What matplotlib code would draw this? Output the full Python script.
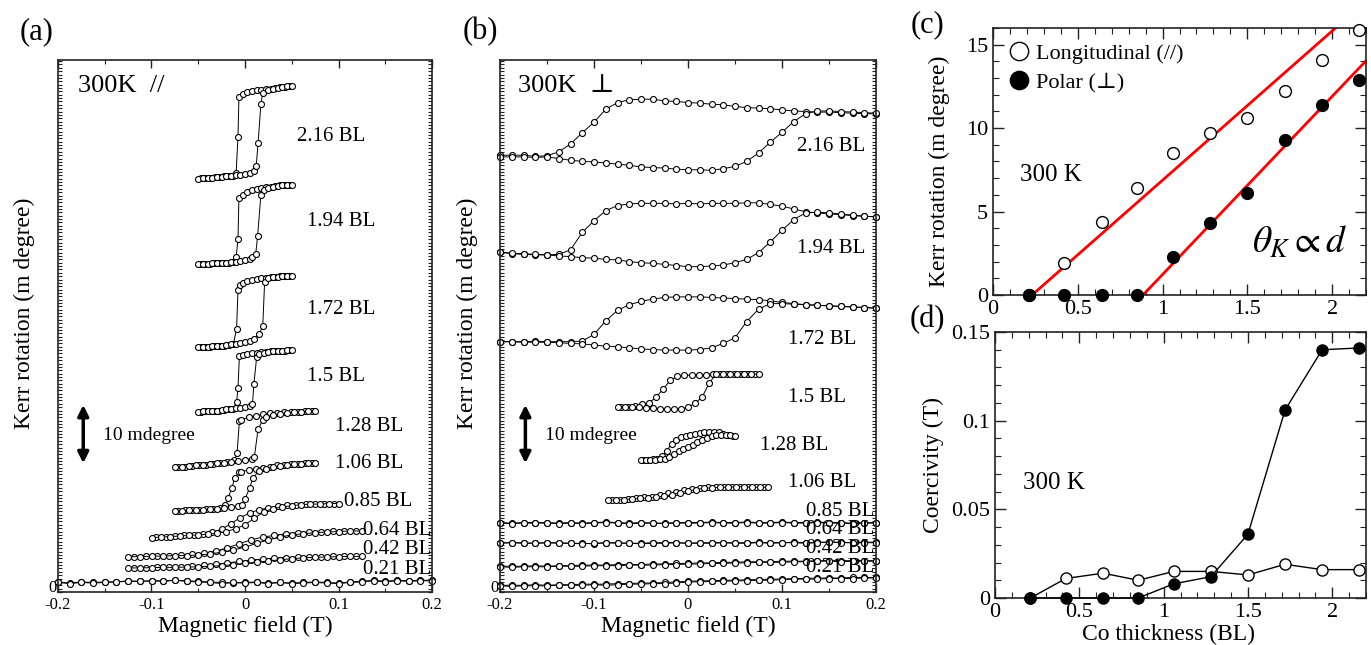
import numpy as np
import matplotlib
matplotlib.use('Agg')
import matplotlib.pyplot as plt
import matplotlib.transforms as mtransforms
from matplotlib.ticker import MultipleLocator, FixedLocator, FuncFormatter

plt.rcParams['font.family'] = ['Liberation Serif', 'DejaVu Serif', 'DejaVu Sans']
plt.rcParams['mathtext.fontset'] = 'stix'

# ---------------- data ----------------
# field sweeps in mT
H_full = [-200, -187.5, -175, -162.5, -150, -137.5, -125, -112.5, -100, -87.5, -75, -62.5, -50,
          -37.5, -25, -12.5, 0, 12.5, 25, 37.5, 50, 62.5, 75, 87.5, 100, 112.5, 125, 137.5, 150,
          162.5, 175, 187.5, 200]
H_100_up = [-100, -90, -80, -70, -60, -50, -40, -30, -20, -10, 0, 10, 20, 30, 40, 50, 60, 70, 80, 90, 100]
H_100_dn = [-95, -85, -75, -65, -55, -45, -35, -25, -15, -5, 5, 15, 25, 35, 45, 55, 65, 75, 85, 95]
H_125_up = [-125, -112.5, -100, -87.5, -75, -62.5, -50, -37.5, -25, -12.5, 0, 12.5, 25, 37.5, 50,
            62.5, 75, 87.5, 100, 112.5, 125]
H_125_dn = [-118.75, -106.25, -93.75, -81.25, -68.75, -56.25, -43.75, -31.25, -18.75, -6.25, 6.25,
            18.75, 31.25, 43.75, 56.25, 68.75, 81.25, 93.75, 106.25, 118.75]
H_75_up = [-75, -67.5, -60, -52.5, -45, -37.5, -30, -22.5, -15, -7.5, 0, 7.5, 15, 22.5, 30, 37.5,
           45, 52.5, 60, 67.5, 75]
H_75_dn = [-71.25, -63.75, -56.25, -48.75, -41.25, -33.75, -26.25, -18.75, -11.25, -3.75, 3.75,
           11.25, 18.75, 26.25, 33.75, 41.25, 48.75, 56.25, 63.75, 71.25]
H_50_up = [-50, -45, -40, -35, -30, -25, -20, -15, -10, -5, 0, 5, 10, 15, 20, 25, 30, 35, 40, 45, 50]
H_50_dn = [-47.5, -42.5, -37.5, -32.5, -27.5, -22.5, -17.5, -12.5, -7.5, -2.5, 2.5, 7.5, 12.5,
           17.5, 22.5, 27.5, 32.5, 37.5, 42.5, 47.5]
H_85_up = [-85, -76.5, -68, -59.5, -51, -42.5, -34, -25.5, -17, -8.5, 0, 8.5, 17, 25.5, 34, 42.5,
           51, 59.5, 68, 76.5, 85]
H_85_dn = [-80.75, -72.25, -63.75, -55.25, -46.75, -38.25, -29.75, -21.25, -12.75, -4.25, 4.25,
           12.75, 21.25, 29.75, 38.25, 46.75, 55.25, 63.75, 72.25, 80.75]

# (a) longitudinal loops, Kerr rotation in m degree (offset per thickness)
a216_dn_h = [-47.5, -42.5, -37.5, -32.5, -27.5, -22.5, -17.5, -12.5, -9.5, -7.5, -6.5, -2.5, 2.5,
             7.5, 12.5, 17.5, 22.5, 27.5, 32.5, 37.5, 42.5, 47.5]
a216_dn = [73.9, 74.0, 74.0, 74.1, 74.1, 74.2, 74.2, 74.3, 74.8, 81.3, 88.4, 88.9, 89.2, 89.4, 89.6,
           89.7, 89.8, 89.9, 90.0, 90.1, 90.2, 90.3]
a216_up_h = [-50, -45, -40, -35, -30, -25, -20, -15, -10, -5, 0, 5, 10, 12, 14, 17, 19, 25, 30, 35,
             40, 45, 50]
a216_up = [73.8, 73.9, 74.0, 74.0, 74.1, 74.1, 74.2, 74.3, 74.4, 74.5, 74.6, 74.8, 75.2, 76.1, 80.2,
           87.1, 89.1, 89.6, 89.9, 90.0, 90.2, 90.3, 90.4]

a194_dn_h = [-47.5, -42.5, -37.5, -32.5, -27.5, -22.5, -17.5, -12.5, -9.5, -7.5, -6.5, -2.5, 2.5,
             7.5, 12.5, 17.5, 22.5, 27.5, 32.5, 37.5, 42.5, 47.5]
a194_dn = [58.5, 58.6, 58.6, 58.7, 58.7, 58.8, 58.8, 58.9, 59.8, 63.0, 70.4, 70.9, 71.4, 71.8, 72.0,
           72.2, 72.3, 72.4, 72.5, 72.6, 72.6, 72.7]
a194_up_h = [-50, -45, -40, -35, -30, -25, -20, -15, -10, -5, 0, 5, 8, 11.5, 13.5, 17, 20, 25, 30,
             35, 40, 45, 50]
a194_up = [58.5, 58.6, 58.6, 58.7, 58.7, 58.8, 58.8, 58.9, 59.0, 59.1, 59.2, 59.4, 59.8, 60.4, 63.6,
           70.9, 71.8, 72.2, 72.3, 72.5, 72.6, 72.7, 72.7]

a172_dn_h = [-47.5, -42.5, -37.5, -32.5, -27.5, -22.5, -17.5, -12.5, -9, -7.5, -5, -2.5, 2.5, 7.5,
             12.5, 17.5, 22.5, 27.5, 32.5, 37.5, 42.5, 47.5]
a172_dn = [43.7, 43.8, 43.8, 43.9, 43.9, 44.0, 44.1, 44.2, 47.0, 53.9, 54.8, 55.2, 55.5, 55.7, 55.9,
           56.0, 56.1, 56.2, 56.3, 56.4, 56.4, 56.5]
a172_up_h = [-50, -45, -40, -35, -30, -25, -20, -15, -10, -5, 0, 5, 10, 15, 19, 21, 25, 30, 35, 40,
             45, 50]
a172_up = [43.7, 43.8, 43.8, 43.9, 43.9, 44.0, 44.1, 44.2, 44.3, 44.4, 44.6, 44.8, 45.2, 46.0, 47.5,
           55.4, 56.0, 56.2, 56.3, 56.4, 56.5, 56.5]

a150_dn_h = [-47.5, -42.5, -37.5, -32.5, -27.5, -22.5, -17.5, -12.5, -9, -7.5, -6, -2.5, 2.5, 7.5,
             12.5, 17.5, 22.5, 27.5, 32.5, 37.5, 42.5, 47.5]
a150_dn = [32.2, 32.3, 32.3, 32.4, 32.4, 32.5, 32.6, 32.7, 33.9, 36.4, 42.1, 42.3, 42.5, 42.6, 42.7,
           42.8, 42.9, 43.0, 43.0, 43.1, 43.1, 43.2]
a150_up_h = [-50, -45, -40, -35, -30, -25, -20, -15, -10, -5, 0, 5, 8, 9.5, 12.5, 15, 20, 25, 30,
             35, 40, 45, 50]
a150_up = [32.2, 32.3, 32.3, 32.4, 32.4, 32.5, 32.6, 32.7, 32.8, 32.9, 33.0, 33.2, 33.6, 37.1, 42.0,
           42.5, 42.7, 42.9, 43.0, 43.1, 43.1, 43.2, 43.2]

a128_dn_h = [-71.25, -63.75, -56.25, -48.75, -41.25, -33.75, -26.25, -18.75, -11.25, -8.5, -6,
             -3.75, 3.75, 11.25, 18.75, 26.25, 33.75, 41.25, 48.75, 56.25, 63.75, 71.25]
a128_dn = [22.3, 22.4, 22.5, 22.6, 22.7, 22.8, 23.0, 23.2, 23.5, 24.8, 30.5, 30.8, 31.2, 31.5, 31.7,
           31.9, 32.0, 32.1, 32.2, 32.2, 32.3, 32.3]
a128_up_h = [-75, -67.5, -60, -52.5, -45, -37.5, -30, -22.5, -15, -7.5, 0, 7.5, 10, 14, 19, 22.5,
             30, 37.5, 45, 52.5, 60, 67.5, 75]
a128_up = [22.3, 22.4, 22.5, 22.6, 22.7, 22.8, 23.0, 23.1, 23.3, 23.4, 23.6, 23.8, 24.1, 29.1, 30.7,
           31.2, 31.6, 31.8, 32.0, 32.1, 32.2, 32.3, 32.3]

a106_dn_h = [-71.25, -63.75, -56.25, -48.75, -41.25, -33.75, -26.25, -21, -18, -14, -11, -6, -3.75,
             3.75, 11.25, 18.75, 26.25, 33.75, 41.25, 48.75, 56.25, 63.75, 71.25]
a106_dn = [14.5, 14.6, 14.6, 14.7, 14.8, 14.9, 15.0, 15.5, 16.8, 18.6, 20.4, 21.4, 21.5, 21.8, 22.0,
           22.2, 22.4, 22.6, 22.7, 22.8, 22.9, 23.0, 23.0]
a106_up_h = [-75, -67.5, -60, -52.5, -45, -37.5, -30, -22.5, -15, -7.5, -3, 0, 5, 8.5, 15, 22.5,
             30, 37.5, 45, 52.5, 60, 67.5, 75]
a106_up = [14.5, 14.5, 14.6, 14.6, 14.7, 14.8, 14.9, 15.0, 15.1, 15.3, 15.6, 16.6, 18.6, 20.4, 21.6,
           22.0, 22.3, 22.5, 22.6, 22.8, 22.9, 23.0, 23.0]

a085_dn = [9.8, 9.9, 10.0, 10.1, 10.2, 10.4, 10.7, 11.2, 12.2, 13.3, 14.1, 14.7, 15.0, 15.3, 15.5,
           15.6, 15.7, 15.8, 15.8, 15.8]
a085_up = [9.7, 9.8, 9.9, 10.0, 10.1, 10.2, 10.3, 10.5, 10.8, 11.3, 12.0, 13.2, 14.3, 14.9, 15.2,
           15.4, 15.6, 15.7, 15.7, 15.8, 15.8]

a064_dn = [6.3, 6.4, 6.4, 6.5, 6.6, 6.7, 6.9, 7.3, 7.9, 8.6, 9.3, 9.8, 10.1, 10.4, 10.6, 10.7, 10.8,
           10.9, 10.9, 10.9]
a064_up = [6.3, 6.3, 6.4, 6.4, 6.5, 6.5, 6.6, 6.8, 7.1, 7.5, 8.0, 8.7, 9.3, 9.8, 10.2, 10.4, 10.6,
           10.7, 10.8, 10.9, 10.9]

a042_dn = [4.3, 4.35, 4.4, 4.45, 4.5, 4.6, 4.75, 4.95, 5.2, 5.45, 5.7, 5.9, 6.05, 6.15, 6.25, 6.3,
           6.3, 6.35, 6.35, 6.4]
a042_up = [4.3, 4.3, 4.35, 4.4, 4.4, 4.45, 4.5, 4.6, 4.7, 4.9, 5.1, 5.3, 5.55, 5.75, 5.95, 6.1, 6.2,
           6.25, 6.3, 6.35, 6.35]

a021_dn = [1.8, 1.6, 1.8, 1.7, 1.8, 1.8, 2.0, 1.9, 2.0, 2.0, 2.1, 2.0, 1.9, 1.8, 1.7, 1.6, 1.7, 1.8,
           1.6, 1.7, 1.6, 1.7, 1.8, 1.7, 1.6, 1.8, 1.9, 2.1, 1.9, 2.1, 2.0, 2.1, 2.1]
a021_up = [1.7, 1.5, 1.7, 1.6, 1.7, 1.8, 1.9, 1.9, 2.0, 1.9, 2.1, 1.9, 1.8, 1.7, 1.5, 1.7, 1.6, 1.7,
           1.5, 1.7, 1.5, 1.6, 1.7, 1.6, 1.5, 1.7, 1.8, 2.0, 1.8, 2.0, 1.9, 2.0, 2.0]

a_labels = ['2.16 BL', '1.94 BL', '1.72 BL', '1.5 BL', '1.28 BL', '1.06 BL', '0.85 BL', '0.64 BL',
            '0.42 BL', '0.21 BL']

# (b) polar loops
b216_dn = [78.0, 78.0, 78.0, 77.8, 77.9, 78.6, 80.0, 82.0, 83.9, 86.2, 87.4, 87.9, 88.0, 88.0, 87.7,
           87.6, 87.4, 87.3, 87.1, 87.0, 86.7, 86.5, 86.4, 86.3, 86.1, 85.9, 85.8, 85.7, 85.7, 85.6,
           85.5, 85.4, 85.4]
b216_up = [77.7, 77.7, 77.7, 77.6, 77.7, 77.4, 77.1, 76.9, 76.8, 76.6, 76.4, 76.2, 75.9, 75.8, 75.7,
           75.5, 75.4, 75.4, 75.3, 75.6, 76.0, 76.9, 78.4, 80.3, 82.1, 84.0, 85.4, 85.9, 85.9, 85.8,
           85.7, 85.6, 85.5]
b194_dn = [60.7, 60.4, 60.3, 60.2, 60.2, 60.3, 61.1, 64.2, 66.3, 68.1, 69.0, 69.3, 69.4, 69.4, 69.4,
           69.3, 69.4, 69.3, 69.4, 69.4, 69.4, 69.5, 69.5, 69.2, 68.9, 68.4, 67.9, 67.7, 67.5, 67.4,
           67.2, 67.1, 67.0]
b194_up = [60.7, 60.5, 60.4, 60.3, 60.2, 60.0, 59.9, 59.7, 59.6, 59.4, 59.3, 59.0, 58.8, 58.7, 58.5,
           58.3, 58.1, 58.1, 58.2, 58.4, 58.8, 59.4, 60.6, 62.5, 64.6, 66.5, 67.7, 67.8, 67.7, 67.5,
           67.3, 67.1, 67.0]
b172_dn = [44.7, 44.7, 44.7, 44.8, 44.7, 44.7, 44.7, 44.8, 46.0, 48.4, 50.3, 51.3, 51.9, 52.3, 52.6,
           52.7, 52.7, 52.7, 52.6, 52.5, 52.4, 52.3, 52.2, 52.0, 51.7, 51.5, 51.3, 51.2, 51.1, 51.0,
           50.9, 50.8, 50.7]
b172_up = [44.7, 44.7, 44.6, 44.6, 44.6, 44.5, 44.4, 44.3, 44.1, 43.9, 43.8, 43.6, 43.4, 43.3, 43.2,
           43.2, 43.2, 43.3, 43.6, 44.4, 45.4, 48.3, 50.5, 51.5, 51.5, 51.4, 51.3, 51.2, 51.1, 51.0,
           50.9, 50.8, 50.7]
b150_dn = [33.0, 33.1, 33.2, 33.5, 33.8, 34.8, 36.3, 37.8, 38.5, 38.7, 38.7, 38.8, 38.8, 38.9, 38.9,
           38.9, 38.9, 38.9, 38.9, 38.9]
b150_up = [33.0, 33.0, 33.0, 33.0, 32.9, 32.8, 32.7, 32.6, 32.6, 32.7, 33.0, 33.7, 34.8, 37.3, 38.9,
           38.9, 39.0, 39.0, 39.0, 38.9, 38.9]
b128_dn = [23.6, 23.6, 23.7, 23.8, 24.2, 25.2, 26.5, 27.2, 27.6, 27.9, 28.1, 28.3, 28.4, 28.5, 28.6,
           28.6, 28.5, 28.3, 28.1, 27.9]
b128_up = [23.6, 23.6, 23.6, 23.6, 23.7, 23.8, 24.1, 24.6, 25.2, 25.6, 25.9, 26.3, 26.7, 27.1, 27.5,
           27.8, 28.0, 28.1, 28.1, 28.0, 27.9]
b106_dn = [16.4, 16.5, 16.6, 16.7, 16.9, 17.0, 17.3, 17.6, 17.9, 18.2, 18.4, 18.6, 18.7, 18.7, 18.8,
           18.8, 18.8, 18.7, 18.7, 18.7]
b106_up = [16.4, 16.4, 16.5, 16.6, 16.7, 16.8, 16.9, 17.1, 17.4, 17.7, 18.0, 18.3, 18.5, 18.6, 18.7,
           18.7, 18.8, 18.8, 18.7, 18.7, 18.7]
b085_dn = [12.4, 12.3, 12.4, 12.4, 12.4, 12.3, 12.4, 12.3, 12.4, 12.5, 12.4, 12.3, 12.4, 12.3, 12.3,
           12.4, 12.4, 12.4, 12.5, 12.4, 12.4, 12.5, 12.4, 12.4, 12.5, 12.4, 12.4, 12.5, 12.4, 12.4,
           12.3, 12.4, 12.4]
b085_up = [12.3, 12.2, 12.3, 12.3, 12.3, 12.2, 12.3, 12.2, 12.3, 12.4, 12.3, 12.2, 12.3, 12.3, 12.2,
           12.3, 12.3, 12.3, 12.4, 12.3, 12.3, 12.4, 12.3, 12.3, 12.4, 12.3, 12.3, 12.4, 12.3, 12.3,
           12.2, 12.3, 12.3]
b064_dn = [8.8, 8.8, 8.8, 8.7, 8.8, 8.8, 8.7, 8.7, 8.6, 8.8, 8.8, 8.7, 8.7, 8.8, 8.8, 8.8, 8.7, 8.8,
           8.8, 8.8, 8.8, 8.8, 8.9, 8.8, 8.8, 8.9, 8.8, 8.9, 8.9, 8.9, 8.8, 8.9, 8.9]
b064_up = [8.7, 8.8, 8.7, 8.7, 8.8, 8.7, 8.7, 8.6, 8.7, 8.8, 8.7, 8.7, 8.6, 8.7, 8.7, 8.8, 8.7, 8.7,
           8.7, 8.8, 8.7, 8.7, 8.8, 8.7, 8.8, 8.8, 8.7, 8.8, 8.9, 8.8, 8.8, 8.8, 8.8]
b042_dn = [4.6, 4.6, 4.6, 4.7, 4.6, 4.7, 4.7, 4.8, 4.8, 4.8, 4.9, 4.9, 4.9, 5.0, 5.0, 5.1, 5.1, 5.2,
           5.2, 5.3, 5.3, 5.4, 5.4, 5.4, 5.5, 5.5, 5.5, 5.6, 5.6, 5.6, 5.6, 5.6, 5.6]
b042_up = [4.5, 4.4, 4.5, 4.5, 4.5, 4.6, 4.6, 4.6, 4.7, 4.7, 4.7, 4.8, 4.8, 4.8, 4.9, 4.9, 5.0, 5.0,
           5.1, 5.1, 5.2, 5.2, 5.3, 5.3, 5.3, 5.4, 5.4, 5.5, 5.5, 5.4, 5.5, 5.5, 5.5]
b021_dn = [1.2, 1.2, 1.2, 1.3, 1.2, 1.3, 1.3, 1.4, 1.4, 1.4, 1.5, 1.5, 1.6, 1.6, 1.7, 1.8, 1.9, 2.0,
           2.0, 2.1, 2.1, 2.2, 2.2, 2.3, 2.3, 2.4, 2.4, 2.5, 2.5, 2.5, 2.6, 2.6, 2.6]
b021_up = [1.1, 1.0, 1.1, 1.1, 1.1, 1.2, 1.2, 1.2, 1.3, 1.2, 1.3, 1.4, 1.4, 1.5, 1.5, 1.6, 1.8, 1.8,
           1.9, 1.9, 2.0, 2.0, 2.1, 2.1, 2.2, 2.3, 2.3, 2.3, 2.4, 2.4, 2.4, 2.5, 2.5]

# (c), (d) thickness dependence
thickness = [0.21, 0.42, 0.64, 0.85, 1.06, 1.28, 1.5, 1.72, 1.94, 2.16]
kerr_long = [0, 1.9, 4.4, 6.4, 8.5, 9.7, 10.6, 12.2, 14.1, 15.9]
kerr_polar = [0, 0, 0, 0, 2.3, 4.3, 6.1, 9.3, 11.4, 12.9]
fit_long = [8.94, -2.06]    # slope, intercept
fit_polar = [10.67, -9.44]
hc_long = [0, 0.011, 0.014, 0.010, 0.015, 0.015, 0.013, 0.019, 0.016, 0.016]
hc_polar = [0, 0, 0, 0, 0.008, 0.012, 0.036, 0.106, 0.140, 0.141]

# ---------------- figure ----------------
W, H = 1371, 645
fig = plt.figure(figsize=(W / 100, H / 100), dpi=100)


def add_axes_px(x0, y0, x1, y1):
    return fig.add_axes([x0 / W, 1 - y1 / H, (x1 - x0) / W, (y1 - y0) / H])


def fig_text(x, y, s, **kw):
    fig.text(x / W, 1 - y / H, s, **kw)


def gfmt(v, pos):
    return '%g' % (round(v, 3) + 0.0)


def style_axes(ax, major_len=6, minor_len=3, size=12):
    for sp in ax.spines.values():
        sp.set_linewidth(1.2)
        sp.set_color('#222222')
    ax.tick_params(which='both', direction='in', top=True, right=True, colors='#222222',
                   labelcolor='black', labelsize=size)
    ax.tick_params(which='major', length=major_len, width=1.0)
    ax.tick_params(which='minor', length=minor_len, width=0.8)
    ax.xaxis.set_major_formatter(FuncFormatter(gfmt))
    ax.yaxis.set_major_formatter(FuncFormatter(gfmt))


def draw_branch(ax, h_mT, y):
    ax.plot(np.array(h_mT) / 1000.0, y, '-o', color='black', lw=0.7, ms=4.3,
            mfc='white', mec='black', mew=0.8, clip_on=False)


def loop_panel(ax, loops, labels, label_pos, title, title_x):
    for h_dn, y_dn, h_up, y_up in loops:
        draw_branch(ax, h_dn, y_dn)
        draw_branch(ax, h_up, y_up)
    for lab, (lx, ly) in zip(labels, label_pos):
        ax.text(lx, ly, lab, fontsize=15, ha='left', va='center')
    ax.set_xlim(-0.2, 0.2)
    ax.set_ylim(0, 95)
    style_axes(ax)
    ax.xaxis.set_major_locator(MultipleLocator(0.1))
    ax.xaxis.set_minor_locator(MultipleLocator(0.05))
    ax.yaxis.set_major_locator(FixedLocator([0]))
    ax.yaxis.set_minor_locator(MultipleLocator(0.6))
    ax.tick_params(axis='y', which='major', length=3, pad=1)
    # lift the lone "0" a little so it sits just above the -0.2 label
    lift = mtransforms.ScaledTranslation(0, 4 / 72, fig.dpi_scale_trans)
    for lab in ax.get_yticklabels():
        lab.set_transform(lab.get_transform() + lift)
    ax.text(title_x, 90.4, title, fontsize=19, ha='left', va='center')
    ax.annotate('', xy=(-0.173, 33.4), xytext=(-0.173, 23.0),
                arrowprops=dict(arrowstyle='<|-|>', color='black', lw=2.5,
                                mutation_scale=16, shrinkA=0, shrinkB=0))
    ax.text(-0.152, 27.9, '10 mdegree', fontsize=14, ha='left', va='center')


# (a)
ax_a = add_axes_px(58, 60, 432, 592)
a_loops = [
    (a216_dn_h, a216_dn, a216_up_h, a216_up),
    (a194_dn_h, a194_dn, a194_up_h, a194_up),
    (a172_dn_h, a172_dn, a172_up_h, a172_up),
    (a150_dn_h, a150_dn, a150_up_h, a150_up),
    (a128_dn_h, a128_dn, a128_up_h, a128_up),
    (a106_dn_h, a106_dn, a106_up_h, a106_up),
    (H_100_dn, a085_dn, H_100_up, a085_up),
    (H_125_dn, a064_dn, H_125_up, a064_up),
    (H_125_dn, a042_dn, H_125_up, a042_up),
    (H_full, a021_dn, H_full, a021_up),
]
a_label_pos = [(0.0556, 81.3), (0.066, 66.1), (0.066, 50.4), (0.066, 38.4), (0.096, 29.6),
               (0.096, 22.9), (0.106, 16.1), (0.126, 10.9), (0.126, 7.5), (0.126, 4.1)]
loop_panel(ax_a, a_loops, a_labels, a_label_pos, '300K  //', -0.179)

# (b)
ax_b = add_axes_px(500, 60, 876, 592)
b_loops = [
    (H_full, b216_dn, H_full, b216_up),
    (H_full, b194_dn, H_full, b194_up),
    (H_full, b172_dn, H_full, b172_up),
    (H_75_dn, b150_dn, H_75_up, b150_up),
    (H_50_dn, b128_dn, H_50_up, b128_up),
    (H_85_dn, b106_dn, H_85_up, b106_up),
    (H_full, b085_dn, H_full, b085_up),
    (H_full, b064_dn, H_full, b064_up),
    (H_full, b042_dn, H_full, b042_up),
    (H_full, b021_dn, H_full, b021_up),
]
b_label_pos = [(0.116, 79.5), (0.116, 61.4), (0.106, 45.0), (0.106, 34.8), (0.077, 26.25),
               (0.106, 19.5), (0.1255, 14.3), (0.1255, 11.1), (0.1255, 7.7), (0.1255, 4.3)]
loop_panel(ax_b, b_loops, a_labels, b_label_pos, '300K  \u22a5', -0.181)

for x in (245, 688):
    fig_text(x, 626, 'Magnetic field (T)', fontsize=17, ha='center', va='center')
for x in (24, 467):
    fig_text(x, 313, 'Kerr rotation (m degree)', fontsize=17, ha='center', va='center',
             rotation=90)

# (c)
ax_c = add_axes_px(993, 28, 1366, 295)
ax_c.plot(thickness, kerr_long, 'o', ls='none', ms=8.5, mfc='white', mec='black', mew=1.0,
          clip_on=False, label='Longitudinal (//)', zorder=3)
ax_c.plot(thickness, kerr_polar, 'o', ls='none', ms=8.5, color='black', clip_on=False,
          label='Polar (\u22a5)', zorder=4)
for slope, icpt in (fit_long, fit_polar):
    xs = np.array([-icpt / slope, 2.2])
    ax_c.plot(xs, slope * xs + icpt, color='red', lw=2.0, zorder=2)
ax_c.set_xlim(0, 2.2)
ax_c.set_ylim(0, 16)
style_axes(ax_c, major_len=8, minor_len=4, size=16)
ax_c.xaxis.set_major_locator(MultipleLocator(0.5))
ax_c.xaxis.set_minor_locator(MultipleLocator(0.1))
ax_c.yaxis.set_major_locator(MultipleLocator(5))
ax_c.yaxis.set_minor_locator(MultipleLocator(1))
ax_c.legend(loc='upper left', frameon=False, fontsize=16, markerscale=1.55, handlelength=0.9,
            handletextpad=0.35, labelspacing=0.35, borderaxespad=0.5, borderpad=0.2)
ax_c.text(0.16, 7.2, '300 K', fontsize=18, ha='left', va='center')
ax_c.text(1.53, 3.1, r'$\theta_K \propto d$', fontsize=27, ha='left', va='center')
fig_text(939, 171, 'Kerr rotation (m degree)', fontsize=17, ha='center', va='center', rotation=90)

# (d)
ax_d = add_axes_px(995, 332, 1366, 598)
ax_d.plot(thickness, hc_long, '-o', color='black', lw=1.0, ms=8, mfc='white', mec='black',
          mew=1.0, clip_on=False, zorder=3)
ax_d.plot(thickness, hc_polar, '-o', color='black', lw=1.0, ms=8, clip_on=False, zorder=4)
ax_d.set_xlim(0, 2.2)
ax_d.set_ylim(0, 0.15)
style_axes(ax_d, major_len=8, minor_len=4, size=16)
ax_d.xaxis.set_major_locator(MultipleLocator(0.5))
ax_d.xaxis.set_minor_locator(MultipleLocator(0.1))
ax_d.yaxis.set_major_locator(MultipleLocator(0.05))
ax_d.yaxis.set_minor_locator(MultipleLocator(0.01))
ax_d.text(0.166, 0.0648, '300 K', fontsize=18, ha='left', va='center')
fig_text(933, 465, 'Coercivity (T)', fontsize=17, ha='center', va='center', rotation=90)
fig_text(1168, 634, 'Co thickness (BL)', fontsize=17, ha='center', va='center')

# panel letters
for x, y, s in ((37, 32, '(a)'), (480, 32, '(b)'), (927, 25, '(c)'), (927, 320, '(d)')):
    fig_text(x, y, s, fontsize=22, ha='center', va='center')

fig.savefig('out.png', dpi=100)
